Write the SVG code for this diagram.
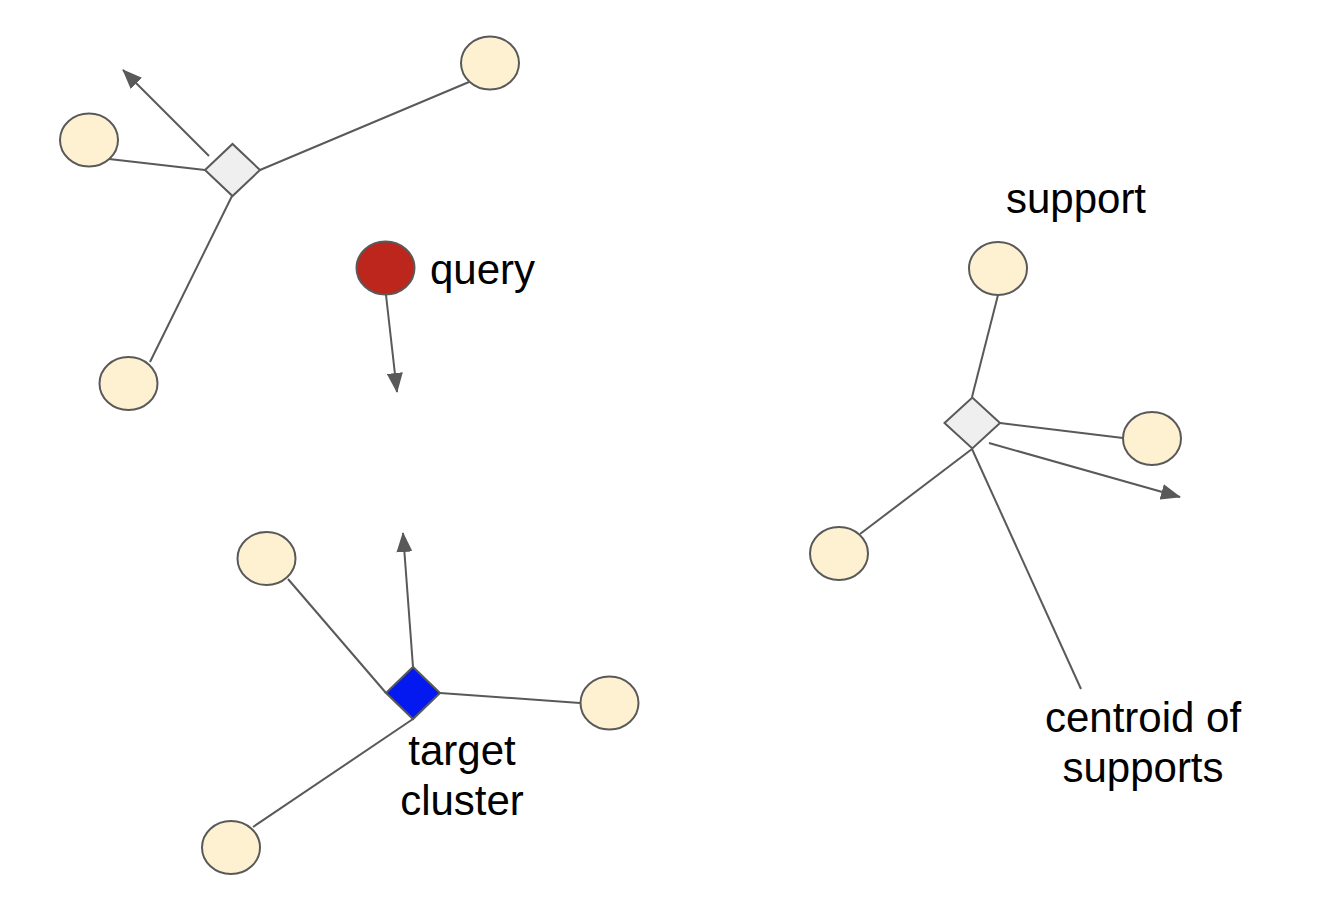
<svg xmlns="http://www.w3.org/2000/svg" width="1326" height="906" viewBox="0 0 1326 906">
<defs>
<marker id="arr" markerUnits="userSpaceOnUse" markerWidth="20" markerHeight="16" viewBox="0 0 20 16" refX="19" refY="8" orient="auto">
<path d="M0,0 L20,8 L0,16 Z" fill="#595959"/>
</marker>
</defs>
<style>
.e{fill:#fdf1d2;stroke:#595959;stroke-width:2}
.d{fill:#efefef;stroke:#595959;stroke-width:2}
.c{stroke:#595959;stroke-width:2;fill:none}
.a{stroke:#595959;stroke-width:2;fill:none;marker-end:url(#arr)}
.t{font-family:"Liberation Sans",Arial,sans-serif;font-size:42px;fill:#000}
</style>
<rect width="1326" height="906" fill="#fff"/>
<g id="connectors">
<line class="c" x1="109" y1="159" x2="205" y2="170"/>
<line class="c" x1="469" y1="82" x2="260" y2="170"/>
<line class="c" x1="232" y1="196" x2="150" y2="362"/>
<line class="a" x1="209" y1="156" x2="123" y2="70"/>
<line class="a" x1="386" y1="295" x2="397" y2="392"/>
<line class="c" x1="288" y1="579" x2="386" y2="693"/>
<line class="c" x1="440" y1="693" x2="580" y2="703"/>
<line class="c" x1="413" y1="719" x2="253" y2="827"/>
<line class="a" x1="413" y1="667" x2="403" y2="533"/>
<line class="c" x1="998" y1="295" x2="972" y2="397"/>
<line class="c" x1="1000" y1="423" x2="1123" y2="438"/>
<line class="c" x1="972" y1="449" x2="860" y2="534"/>
<line class="c" x1="972" y1="449" x2="1081" y2="689"/>
<line class="a" x1="989" y1="443" x2="1180" y2="497"/>
</g>
<g id="c1">
<polygon class="d" points="205,170 232.5,144 260,170 232.5,196"/>
</g>
<g id="c1-s1"><ellipse class="e" cx="490" cy="63" rx="29" ry="26.5"/></g>
<g id="c1-s2"><ellipse class="e" cx="89" cy="140" rx="29" ry="26.5"/></g>
<g id="c1-s3"><ellipse class="e" cx="128.5" cy="383.5" rx="29" ry="26.5"/></g>
<g id="query">
<ellipse cx="385.5" cy="268" rx="29" ry="26.5" fill="#bc261d" stroke="#595959" stroke-width="2"/>
<text class="t" x="430" y="284">query</text>
</g>
<g id="target">
<polygon points="386,693 413,667 440,693 413,719" fill="#0419f0" stroke="#595959" stroke-width="2"/>
<text class="t" x="462" y="765" text-anchor="middle">target</text>
<text class="t" x="462" y="815" text-anchor="middle">cluster</text>
</g>
<g id="t-s1"><ellipse class="e" cx="266.5" cy="558.5" rx="29" ry="26.5"/></g>
<g id="t-s2"><ellipse class="e" cx="609.5" cy="703" rx="29" ry="26.5"/></g>
<g id="t-s3"><ellipse class="e" cx="231" cy="847.5" rx="29" ry="26.5"/></g>
<g id="c2">
<polygon class="d" points="944.5,423 972.3,397.5 1000,423 972.3,448.5"/>
</g>
<g id="c2-s1">
<ellipse class="e" cx="998" cy="268.5" rx="29" ry="26.5"/>
<text class="t" x="1076" y="213" text-anchor="middle">support</text>
</g>
<g id="c2-s2"><ellipse class="e" cx="1152" cy="438.5" rx="29" ry="26.5"/></g>
<g id="c2-s3"><ellipse class="e" cx="839" cy="553.5" rx="29" ry="26.5"/></g>
<g id="centroid-label">
<text class="t" x="1143" y="732" text-anchor="middle">centroid of</text>
<text class="t" x="1143" y="782" text-anchor="middle">supports</text>
</g>
</svg>
